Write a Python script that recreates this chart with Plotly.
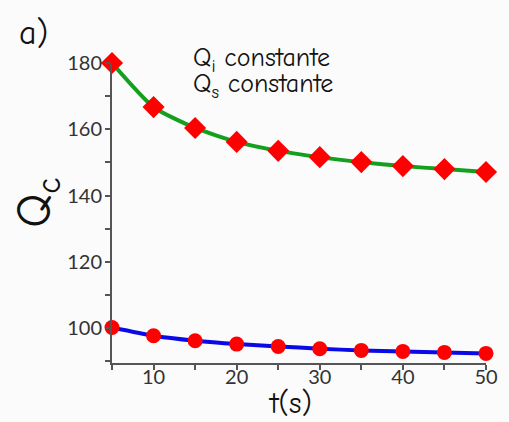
import plotly.graph_objects as go

# time samples (s)
t = [5, 10, 15, 20, 25, 30, 35, 40, 45, 50]
# Q_c with Q_i and Q_s held constant
qc_upper = [180.0, 166.7, 160.4, 156.2, 153.5, 151.6, 150.1, 148.9, 148.0, 147.1]
qc_lower = [100.2, 97.7, 96.2, 95.2, 94.5, 93.8, 93.3, 93.0, 92.7, 92.4]

x_ticks = [10, 20, 30, 40, 50]
y_ticks = [100, 120, 140, 160, 180]

label_font = "Comic Neue, Comic Sans MS, Open Sans, sans-serif"
tick_font = "Lato, Noto Sans, sans-serif"

fig = go.Figure()
fig.add_trace(go.Scatter(
    x=t, y=qc_upper, mode="lines+markers",
    line=dict(color="#14a01e", width=4, shape="spline", smoothing=0.6),
    marker=dict(symbol="diamond", size=17, color="#ff0000"),
    cliponaxis=False, showlegend=False))
fig.add_trace(go.Scatter(
    x=t, y=qc_lower, mode="lines+markers",
    line=dict(color="#0a0ae6", width=4, shape="spline", smoothing=0.6),
    marker=dict(symbol="circle", size=15, color="#ff0000"),
    cliponaxis=False, showlegend=False))

axis_common = dict(
    showline=True, linecolor="#555555", linewidth=2,
    ticks="outside", tickcolor="#555555", tickwidth=1.5,
    showgrid=False, zeroline=False, ticklabeloverflow="allow",
    tickfont=dict(family=tick_font, size=20, color="#333333"),
)

fig.update_xaxes(range=[5, 50], tickvals=x_ticks, ticklen=2,
                 ticklabelstandoff=-7,
                 minor=dict(dtick=5, tick0=5, ticks="outside", ticklen=5,
                            tickcolor="#555555"),
                 **axis_common)
fig.update_yaxes(range=[89.5, 180], tickvals=y_ticks, ticklen=4,
                 minor=dict(dtick=10, tick0=100, ticks="outside", ticklen=5,
                            tickcolor="#555555"),
                 **axis_common)

fig.add_annotation(text="a)", xref="paper", yref="paper", x=-0.255, y=1.1,
                   xanchor="left", yanchor="middle", showarrow=False,
                   font=dict(family=label_font, size=34, color="#111111"))
fig.add_annotation(text="Q<sub>i</sub> constante",
                   xref="paper", yref="paper", x=0.21, y=1.01, height=28,
                   xanchor="left", yanchor="middle", showarrow=False,
                   font=dict(family=label_font, size=26, color="#111111"))
fig.add_annotation(text="Q<sub>s</sub> constante",
                   xref="paper", yref="paper", x=0.21, y=0.922, height=28,
                   xanchor="left", yanchor="middle", showarrow=False,
                   font=dict(family=label_font, size=26, color="#111111"))
fig.add_annotation(text="t(s)", xref="paper", yref="paper", x=0.475, y=-0.07,
                   xanchor="center", yanchor="top", showarrow=False,
                   font=dict(family=label_font, size=30, color="#111111"))
fig.add_annotation(text="Q<sub>c</sub>", xref="paper", yref="paper",
                   x=-0.2, y=0.535, textangle=-90,
                   xanchor="center", yanchor="middle", showarrow=False,
                   font=dict(family=label_font, size=48, color="#111111"))

fig.update_layout(
    width=509, height=422,
    margin=dict(l=112, r=11, t=63, b=59),
    paper_bgcolor="#fbfbfb", plot_bgcolor="#fbfbfb",
)

fig.write_html("out.html")
